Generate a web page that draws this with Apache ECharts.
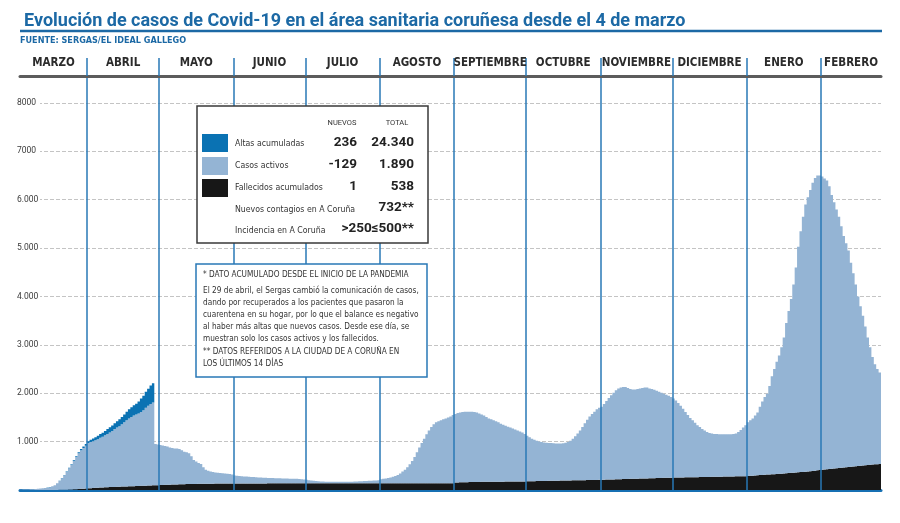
<!DOCTYPE html>
<html><head><meta charset="utf-8">
<script src="https://cdn.jsdelivr.net/npm/echarts@6/dist/echarts.min.js"></script>
<style>html,body{margin:0;padding:0;background:#fff}#c{width:900px;height:523px}</style>
</head><body><div id="c"></div>
<script>
// ---------- DATA ----------
const monthNames = ['MARZO','ABRIL','MAYO','JUNIO','JULIO','AGOSTO','SEPTIEMBRE','OCTUBRE','NOVIEMBRE','DICIEMBRE','ENERO','FEBRERO'];
// index of the first day of each month (day 0 = 4 de marzo de 2020)
const monthStart = [0,28,58,89,119,150,181,211,242,272,303,334];
const yTickLabels = ['1.000','2.000','3.000','4.000','5.000','6.000','7000','8000'];

const fallecidos = [
 0,0,0,0,0,0,0,0,0,0,0,0,1,1,2,2,3,4,5,7,9,11,14,17,20,24,28,32,
 35,38,41,44,47,50,53,56,58,60,62,64,66,68,70,72,74,76,78,80,82,84,86,88,90,92,94,96,98,100,
 102,104,106,108,110,112,114,116,118,120,121,122,123,124,125,126,127,128,129,130,130,131,131,132,132,133,133,134,134,135,135,
 135,135,135,135,135,136,136,136,136,136,136,136,136,136,137,137,137,137,137,137,137,137,137,137,137,137,137,137,137,137,
 138,138,138,138,138,138,138,138,138,138,138,138,138,138,138,138,138,138,138,138,138,138,138,138,138,138,138,138,138,138,138,
 138,138,138,138,138,138,138,138,138,138,138,138,138,138,138,139,139,139,139,139,139,139,139,140,140,140,140,140,140,140,140,
 155,157,159,160,161,162,163,164,165,166,167,168,169,170,170,171,171,172,172,173,173,174,174,175,175,176,176,177,177,178,
 180,181,182,183,184,185,186,187,188,189,190,191,192,193,194,195,196,197,198,199,200,201,202,203,204,205,206,207,208,209,210,
 212,213,215,216,218,219,221,222,224,225,227,228,230,231,233,234,236,237,239,240,242,243,245,246,248,249,251,252,254,255,
 256,257,258,259,260,261,262,263,264,265,266,267,268,269,270,271,272,273,274,275,276,277,278,279,280,281,282,283,284,285,286,
 288,292,296,300,304,308,312,315,318,321,324,327,330,334,338,342,346,350,354,358,362,366,370,374,378,383,388,394,400,407,414,
 420,425,430,435,440,445,450,455,460,465,470,475,480,485,490,495,500,505,510,515,520,525,530,534,538
];

const activos = [
 5,8,10,12,15,18,20,25,30,35,40,49,58,77,96,135,183,241,299,365,441,517,591,665,738,800,842,883,
 935,952,969,986,1003,1030,1047,1074,1102,1130,1158,1196,1224,1252,1290,1328,1366,1404,1432,1460,1478,1496,1524,1562,1610,1648,1686,1714,852,840,
 828,816,804,792,770,758,746,744,732,700,669,658,637,576,495,464,433,412,341,290,270,249,239,228,223,217,212,206,201,195,185,
 165,160,155,150,145,144,139,134,134,129,124,124,119,119,113,113,113,108,108,108,103,103,103,98,98,93,93,88,83,78,
 72,62,57,52,47,42,37,37,32,32,32,32,30,30,30,30,32,32,32,34,37,40,42,44,47,50,52,54,57,60,62,
 82,92,102,112,122,137,152,172,202,242,282,332,392,462,542,641,741,831,921,1011,1091,1161,1221,1260,1280,1300,1320,1340,1360,1380,1410,
 1415,1433,1441,1450,1454,1458,1457,1451,1445,1434,1413,1392,1371,1340,1310,1289,1269,1248,1228,1197,1177,1156,1136,1115,1095,1074,1054,1033,1013,982,
 940,909,878,857,836,815,804,793,787,781,780,774,768,767,766,770,779,793,822,861,910,969,1028,1097,1176,1245,1314,1363,1412,1461,1490,
 1508,1567,1625,1684,1742,1791,1839,1878,1896,1905,1903,1882,1860,1849,1847,1856,1864,1873,1881,1880,1858,1847,1825,1804,1782,1761,1739,1718,1696,1665,
 1634,1593,1542,1481,1420,1349,1288,1227,1176,1125,1074,1033,992,961,930,909,898,887,886,880,874,873,877,871,870,879,888,917,956,1005,1054,
 1112,1148,1184,1240,1296,1412,1518,1605,1672,1829,2026,2173,2320,2446,2612,2808,3104,3350,3596,3892,4238,4664,4980,5276,5522,5667,5812,5956,6050,6093,6086,
 6060,6015,5970,5845,5660,5505,5350,5195,4990,4785,4630,4475,4220,3995,3760,3505,3300,3095,2870,2635,2430,2225,2070,1966,1890
];

// altas acumuladas: shown only until 28 de abril
const altas = [
 0,0,0,0,0,0,0,0,0,0,0,1,1,2,2,3,4,5,6,8,10,12,15,18,22,26,30,35,
 40,48,55,62,70,78,85,92,100,108,115,122,130,140,150,162,175,188,200,212,225,250,280,300,330,355,380,395
];

// ---------- CATEGORIES ----------
const startDate = Date.UTC(2020, 2, 4);
const categories = activos.map((_, i) => new Date(startDate + i * 86400000).toISOString().slice(0, 10));
const nDays = categories.length;
const boundaries = monthStart.slice(1);
const monthEnds = monthStart.slice(1).concat([nDays]);
const labelPos = monthStart.map((s, i) => (s + monthEnds[i]) / 2);

// ---------- STYLE ----------
const NARROW = "'Liberation Sans Narrow','DejaVu Sans Condensed',Roboto,sans-serif";
const BLUE_T = '#1c69a5';
const BLUE_L = '#2878b6';
const C_ACT = '#94b4d4', C_ALT = '#0a72b3', C_FAL = '#171717';
const ZB = 100;

function txt(x, y, text, font, fill, align, valign) {
  return {type:'text', x:x, y:y, z:ZB+1, silent:true,
    style:{text:text, font:font, fill:fill||'#333', align:align||'left', textAlign:align||'left',
           verticalAlign:valign||'middle', textVerticalAlign:valign||'middle'}};
}
function box(x, y, w, h, fill, stroke, lw) {
  const s = {fill:fill};
  if (stroke) { s.stroke = stroke; s.lineWidth = lw; }
  return {type:'rect', z:ZB, shape:{x:x, y:y, width:w, height:h}, style:s};
}

const lblFont = "8.7px " + NARROW;
const valFont = "bold 13.5px Roboto";
const noteFont = "8.2px " + NARROW;

const legendEls = [
  box(197,106,231,137,'#fff','#3a3a3a',1.5),
  txt(342,123,'NUEVOS',"7.5px Roboto",'#333','center'),
  txt(397,123,'TOTAL',"7.5px Roboto",'#333','center'),
  box(202,134,26,18,C_ALT),
  box(202,157,26,18,C_ACT),
  box(202,179,26,18,C_FAL),
  txt(235,144,'Altas acumuladas',lblFont),
  txt(235,166,'Casos activos',lblFont),
  txt(235,188,'Fallecidos acumulados',lblFont),
  txt(357,143,'236',valFont,'#222','right'),
  txt(414,143,'24.340',valFont,'#222','right'),
  txt(357,165,'-129',valFont,'#222','right'),
  txt(414,165,'1.890',valFont,'#222','right'),
  txt(357,187,'1',valFont,'#222','right'),
  txt(414,187,'538',valFont,'#222','right'),
  txt(235,210,'Nuevos contagios en A Coruña',lblFont),
  txt(414,208,'732**',valFont,'#222','right'),
  txt(235,231,'Incidencia en A Coruña',lblFont),
  txt(414,229,'>250≤500**',valFont,'#222','right')
];

const noteLines = [
  '* DATO ACUMULADO DESDE EL INICIO DE LA PANDEMIA',
  'El 29 de abril, el Sergas cambió la comunicación de casos,',
  'dando por recuperados a los pacientes que pasaron la',
  'cuarentena en su hogar, por lo que el balance es negativo',
  'al haber más altas que nuevos casos. Desde ese día, se',
  'muestran solo los casos activos y los fallecidos.',
  '** DATOS REFERIDOS A LA CIUDAD DE A CORUÑA EN',
  'LOS ÚLTIMOS 14 DÍAS'
];
const noteY = [275,291,303,315,327,339,352,364];
const noteEls = [box(196,264,231,113,'#fff',BLUE_L,1.5)]
  .concat(noteLines.map((t,i)=>txt(203,noteY[i],t,noteFont,'#333')));

function barSeries(name, data, color) {
  return {name:name, type:'bar', stack:'t', data:data, barCategoryGap:'0%', barGap:'0%',
    large:true, largeThreshold:50, itemStyle:{color:color}, emphasis:{disabled:true}};
}

const chart = echarts.init(document.getElementById('c'), null, {renderer:'canvas'});
chart.setOption({
  animation:false,
  title:{text:'Evolución de casos de Covid-19 en el área sanitaria coruñesa desde el 4 de marzo',
    left:19, top:7, textStyle:{fontFamily:'Roboto', fontSize:18, fontWeight:'bold', color:BLUE_T}},
  grid:{left:20, right:19, top:76, bottom:33},
  xAxis:[
    {type:'category', data:categories, position:'bottom', offset:2, boundaryGap:true,
     axisLine:{lineStyle:{color:'#1670b3', width:3}}, axisTick:{show:false}, axisLabel:{show:false}, splitLine:{show:false}},
    {type:'value', min:0, max:nDays, position:'top', z:3,
     axisLine:{show:true, lineStyle:{color:'#5c5c5c', width:3}},
     axisTick:{show:true, customValues:boundaries, inside:false, length:18, lineStyle:{color:BLUE_L, width:1.5}},
     axisLabel:{show:true, customValues:labelPos, margin:7, fontFamily:NARROW, fontSize:11.5, fontWeight:'bold', color:'#2b2b2b',
       formatter:function(v){ const k = labelPos.indexOf(v); return k >= 0 ? monthNames[k] : ''; }},
     splitLine:{show:true, lineStyle:{color:BLUE_L, width:1.5}}}
  ],
  yAxis:{type:'value', min:0, max:8558, interval:1000, offset:3,
    axisLine:{show:false}, axisTick:{show:false},
    axisLabel:{inside:true, margin:0, showMinLabel:false, showMaxLabel:false, fontFamily:'Roboto', fontSize:8.5, color:'#3a3a3a',
      backgroundColor:'#fff', width:23, padding:[1,0,1,0],
      formatter:function(v){ return yTickLabels[Math.round(v/1000)-1] || ''; }},
    splitLine:{show:true, showMinLine:false, showMaxLine:false, lineStyle:{color:'#c4c4c4', type:[4,2], width:1}}},
  graphic:[
    {type:'line', shape:{x1:20,y1:31,x2:882,y2:31}, style:{stroke:BLUE_T, lineWidth:2.5}},
    txt(20,41,'FUENTE: SERGAS/EL IDEAL GALLEGO',"bold 9px "+NARROW,BLUE_T)
  ].concat(legendEls, noteEls),
  series:[
    barSeries('Fallecidos acumulados', fallecidos, C_FAL),
    barSeries('Casos activos', activos, C_ACT),
    barSeries('Altas acumuladas', altas, C_ALT)
  ]
});
</script></body></html>
